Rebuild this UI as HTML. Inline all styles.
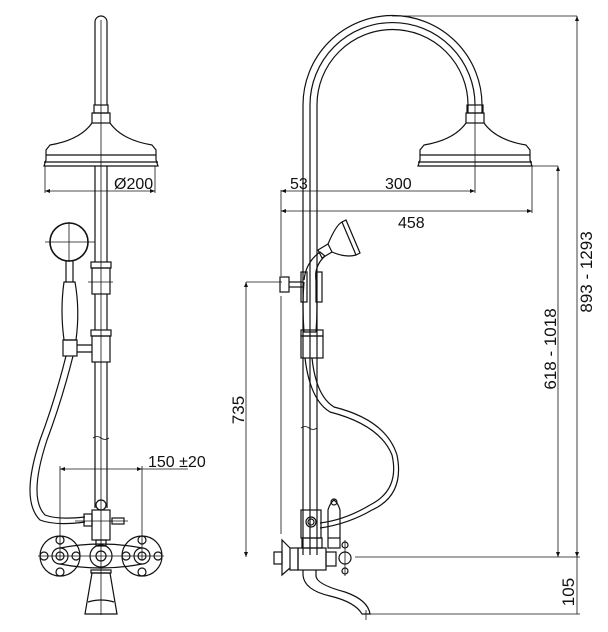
<!DOCTYPE html>
<html><head><meta charset="utf-8"><style>
html,body{margin:0;padding:0;background:#fff;}
svg{display:block;}
text{font-family:"Liberation Sans",sans-serif;font-size:16px;fill:#111;}
.v{font-size:17px;}
</style></head><body>
<svg width="608" height="632" viewBox="0 0 608 632" xmlns="http://www.w3.org/2000/svg">
<g fill="none" stroke="#111" stroke-width="1.2">
<!-- LEFT FIGURE -->
<path d="M95 105 V22 a6 6 0 0 1 12 0 V105"/>
<line x1="101" y1="20" x2="101" y2="615" stroke-width="0.8"/>
<rect x="94" y="105" width="14" height="8"/>
<rect x="92" y="113" width="18" height="10"/>
<path d="M92 123 Q80 140 50 145 L46 150 V160 L44 166 H158 L156 160 V150 L152 145 Q122 140 110 123"/>
<line x1="46" y1="155" x2="156" y2="155"/>
<line x1="44" y1="162" x2="158" y2="162"/>
<line x1="95" y1="166" x2="95" y2="262"/><line x1="107" y1="166" x2="107" y2="262"/>
<!-- dim 200 -->
<line x1="45" y1="166" x2="45" y2="193" stroke-width="0.8"/>
<line x1="155" y1="166" x2="155" y2="193" stroke-width="0.8"/>
<line x1="45" y1="191" x2="155" y2="191" stroke-width="0.8"/>
<!-- hand shower -->
<circle cx="69" cy="242" r="19" stroke-width="1.6"/>
<line x1="45" y1="242" x2="95" y2="242" stroke-width="0.8"/>
<line x1="69" y1="222" x2="69" y2="262" stroke-width="0.8"/>
<path d="M66 261 V282 M73 261 V282"/>
<path d="M64 282 H75 Q80 310 76 340 H64 Q60 310 64 282Z"/>
<rect x="63" y="340" width="14" height="16"/>
<path d="M77 345 H92 M77 352 H92"/>
<!-- sliders -->
<rect x="91" y="262" width="20" height="6"/><rect x="92" y="268" width="18" height="26"/>
<line x1="88" y1="282" x2="113" y2="282" stroke-width="0.8"/>
<rect x="91" y="330" width="20" height="6"/><rect x="92" y="336" width="18" height="26"/>
<line x1="95" y1="294" x2="95" y2="330"/><line x1="107" y1="294" x2="107" y2="330"/>
<line x1="95" y1="362" x2="95" y2="508"/><line x1="107" y1="362" x2="107" y2="508"/>
<path d="M93 438 q4 -3 8 0 t8 0" stroke-width="0.8"/>
<!-- hose -->
<path d="M66 356 Q55 400 40 440 Q20 500 40 520 Q55 526 85 522"/>
<path d="M73 356 Q62 400 47 440 Q28 498 45 515 Q58 520 85 517"/>
<!-- dim 150 -->
<line x1="60" y1="469" x2="188" y2="469" stroke-width="0.8"/>
<line x1="60" y1="466" x2="60" y2="560" stroke-width="0.8"/>
<line x1="142" y1="466" x2="142" y2="560" stroke-width="0.8"/>
<!-- valve -->
<rect x="92" y="510" width="18" height="30"/>
<circle cx="101" cy="505" r="5"/>
<rect x="84" y="514" width="8" height="12"/>
<rect x="112" y="518" width="12" height="6"/>
<line x1="75" y1="521" x2="128" y2="521" stroke-width="0.8"/>
<rect x="96" y="540" width="10" height="6"/>
<path d="M60 548 Q101 540 142 548 M60 564 Q101 572 142 564"/>
<circle cx="101" cy="556" r="11"/><circle cx="101" cy="556" r="5"/>
<g>
<circle cx="60" cy="556" r="20"/><circle cx="60" cy="556" r="8"/><circle cx="60" cy="556" r="4"/>
<circle cx="60" cy="540" r="4"/><circle cx="60" cy="572" r="4"/><circle cx="44" cy="556" r="4"/><circle cx="76" cy="556" r="4"/>
<circle cx="142" cy="556" r="20"/><circle cx="142" cy="556" r="8"/><circle cx="142" cy="556" r="4"/>
<circle cx="142" cy="540" r="4"/><circle cx="142" cy="572" r="4"/><circle cx="126" cy="556" r="4"/><circle cx="158" cy="556" r="4"/>
</g>
<line x1="38" y1="556" x2="164" y2="556" stroke-width="0.8"/>
<rect x="91" y="570" width="20" height="3"/>
<path d="M92 573 H110 L117 614 H85 Z"/>
<path d="M88 602 Q101 598 114 602"/>

<!-- RIGHT FIGURE -->
<path d="M303 555 V105 A89 89 0 0 1 482 105 V113"/>
<path d="M310 555 V105 A82 82 0 0 1 475 105"/>
<path d="M317 555 V105 A75 75 0 0 1 468 105 V113"/>
<rect x="467" y="105" width="16" height="8"/>
<rect x="466" y="113" width="18" height="10"/>
<path d="M466 123 Q454 140 424 145 L420 150 V160 L418 166 H532 L530 160 V150 L526 145 Q496 140 484 123"/>
<line x1="420" y1="155" x2="530" y2="155"/>
<line x1="418" y1="162" x2="532" y2="162"/>
<!-- dims right -->
<line x1="475" y1="105" x2="475" y2="193" stroke-width="0.8"/>
<line x1="281" y1="191" x2="475" y2="191" stroke-width="0.8"/>
<line x1="281" y1="211" x2="532" y2="211" stroke-width="0.8"/>
<line x1="532" y1="166" x2="532" y2="213" stroke-width="0.8"/>
<line x1="281" y1="190" x2="281" y2="276" stroke-width="0.8"/>
<line x1="281" y1="296" x2="281" y2="534" stroke-width="0.8"/>
<line x1="246" y1="282" x2="282" y2="282" stroke-width="0.8"/>
<line x1="246" y1="282" x2="246" y2="557" stroke-width="0.8"/>
<line x1="532" y1="166" x2="558" y2="166" stroke-width="0.8"/>
<line x1="558" y1="166" x2="558" y2="557" stroke-width="0.8"/>
<line x1="392" y1="16" x2="577" y2="16" stroke-width="0.8"/>
<line x1="577" y1="16" x2="577" y2="614" stroke-width="0.8"/>
<line x1="355" y1="557" x2="580" y2="557" stroke-width="0.8"/>
<line x1="362" y1="614" x2="580" y2="614" stroke-width="0.8"/>
<!-- knob + holder -->
<rect x="280" y="277" width="9" height="15"/>
<line x1="289" y1="282" x2="303" y2="282"/><line x1="289" y1="287" x2="303" y2="287"/>
<rect x="301" y="272" width="6" height="30"/><rect x="316" y="272" width="6" height="30"/>
<path d="M304 280 Q306 262 320 252 L325 256 Q314 266 316 280"/>
<path d="M318 250 L328 244 L332 252 L322 258Z"/>
<path d="M328 244 Q336 225 342 222 L356 255 Q346 258 332 252"/>
<path d="M342 222 L346 220 L360 253 L356 255"/>
<path d="M304 282 Q302 305 304 332 H316 Q318 305 316 282"/>
<rect x="301" y="330" width="22" height="6"/><rect x="301" y="336" width="22" height="22"/>
<path d="M305 358 Q310 400 330 412 Q380 425 392 455 Q400 490 370 505 Q345 520 320 523"/>
<path d="M312 358 Q316 396 334 407 Q386 420 397 455 Q405 495 372 510 Q348 524 320 528"/>
<path d="M301 428 q4 -3 8 0 t8 0" stroke-width="0.8"/>
<!-- valve right -->
<rect x="301" y="510" width="20" height="28"/>
<circle cx="311" cy="522" r="5"/><circle cx="311" cy="522" r="3"/>
<path d="M328 538 V510 Q330 503 334 500 Q338 503 340 510 V538"/>
<circle cx="334" cy="502" r="3"/>
<rect x="328" y="538" width="12" height="10"/>
<rect x="302" y="538" width="20" height="10"/>
<rect x="298" y="548" width="28" height="22"/>
<rect x="290" y="548" width="8" height="22"/>
<path d="M290 548 L282 540 V575 L290 568"/>
<rect x="274" y="552" width="8" height="12"/>
<rect x="326" y="552" width="10" height="14"/>
<circle cx="345" cy="558" r="6"/><circle cx="345" cy="545" r="3"/><circle cx="345" cy="571" r="3"/>
<line x1="345" y1="540" x2="345" y2="576" stroke-width="0.8"/>
<path d="M303 570 V575 Q304 590 330 596 Q355 602 362 614 H370 Q368 600 345 592 Q315 584 316 575 V570"/>
<line x1="366" y1="610" x2="366" y2="620" stroke-width="0.8"/>
</g>
<g fill="#111">
<path d="M45 191 l5 -2 v4z M155 191 l-5 -2 v4z M60 469 l5 -2 v4z M142 469 l-5 -2 v4z"/>
<path d="M281 191 l5 -2 v4z M475 191 l-5 -2 v4z M281 211 l5 -2 v4z M532 211 l-5 -2 v4z"/>
<path d="M246 282 l-2 5 h4z M246 557 l-2 -5 h4z M558 166 l-2 5 h4z M558 557 l-2 -5 h4z M577 16 l-2 5 h4z M577 557 l-2 -5 h4z"/>
</g>
<text x="114" y="189">Ø200</text>
<text x="148" y="467">150 ±20</text>
<text x="290" y="189">53</text>
<text x="385" y="189">300</text>
<text x="398" y="228">458</text>
<text class="v" transform="translate(244,410) rotate(-90)" text-anchor="middle">735</text>
<text class="v" transform="translate(556,349) rotate(-90)" text-anchor="middle">618 - 1018</text>
<text class="v" transform="translate(592,272) rotate(-90)" text-anchor="middle">893 - 1293</text>
<text class="v" transform="translate(574,592) rotate(-90)" text-anchor="middle">105</text>
</svg>
</body></html>
